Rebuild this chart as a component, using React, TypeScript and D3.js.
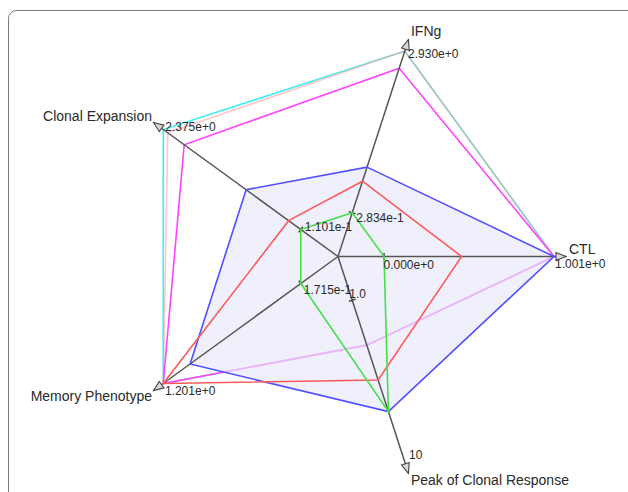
import * as d3 from 'd3';

// axis order clockwise from the top
const axes = ['IFNg', 'CTL', 'Peak of Clonal Response', 'Memory Phenotype', 'Clonal Expansion'];
const axisMin = [0.2834, 0, 1, 0.1715, 0.1101];
const axisMax = [2.93, 1.001, 10, 1.201, 2.375];
const minLabels = ['2.834e-1', '0.000e+0', '1.0', '1.715e-1', '1.101e-1'];
const maxLabels = ['2.930e+0', '1.001e+0', '10', '1.201e+0', '2.375e+0'];

// series values, same order as axes
const cyanValues = [2.93, 1.001, 3.5, 1.201, 2.375];
const pinkValues = [2.93, 1.001, 3.5, 1.201, 2.3];
const magentaValues = [2.65, 1.001, 3.5, 1.201, 2.03];
const blueValues = [1.03, 1.001, 7.2, 1.0, 1.01];
const redValues = [0.8, 0.457, 5.44, 1.201, 0.31];
const greenValues = [0.2834, 0, 7.2, 0.1715, 0.1101];

const W = 628;
const H = 492;
const cx = 338;
const cy = 256.5;
const R = 216;
const r0 = 46;
const arrowLen = 12;

// label offsets (layout only)
const nameOffset = [[2.5, -3.7, 'start'], [3, -3, 'start'], [2.5, 11.7, 'start'], [-1.5, 10.5, 'end'], [-1.5, -1.5, 'end']] as const;
const maxOffset = [[3.3, 7], [1, 11.5], [4.3, -3], [1.7, 11.5], [2, 1]];
const minOffset = [[4, 9], [-0.5, 12], [-3, -2], [3, 10.5], [4, 2]];

const angle = (i: number) => ((-72 + 72 * i) * Math.PI) / 180;
const pt = (i: number, r: number): [number, number] => [cx + r * Math.cos(angle(i)), cy + r * Math.sin(angle(i))];
const scales = axes.map((_, i) => d3.scaleLinear().domain([axisMin[i], axisMax[i]]).range([r0, R]));

const polygon = d3.line<[number, number]>().curve(d3.curveLinearClosed);
const pathFor = (vals: number[]) => polygon(vals.map((v, i) => pt(i, scales[i](v)))) || '';

const font = '"Liberation Sans", Arial, sans-serif';

export default function App() {
  const under = [
    { vals: cyanValues, color: '#3ff0f0', op: 1 },
    { vals: pinkValues, color: '#ff9a9a', op: 0.55 },
    { vals: magentaValues, color: '#ff44ff', op: 1 },
  ];
  const over = [
    { vals: blueValues, color: '#5050ff' },
    { vals: redValues, color: '#ff5a5a' },
    { vals: greenValues, color: '#44e044' },
  ];

  return (
    <svg width={W} height={H} style={{ position: 'absolute', left: 0, top: 0, background: '#fff' }}>
      <rect x={8.5} y={10.5} width={660} height={520} rx={8} fill="#fff" stroke="#7a7a7a" strokeWidth={1} />

      {under.map((s, k) => (
        <path key={k} d={pathFor(s.vals)} fill="none" stroke={s.color} strokeOpacity={s.op} strokeWidth={1.6} />
      ))}

      {/* blue series fill sits over the pale series */}
      <path d={pathFor(blueValues)} fill="rgb(232,232,250)" fillOpacity={0.66} stroke="none" />

      {axes.map((_, i) => {
        const [x0, y0] = pt(i, 0);
        const [x1, y1] = pt(i, R + arrowLen);
        const [tx, ty] = pt(i, r0);
        const a = angle(i);
        const px = -Math.sin(a);
        const py = Math.cos(a);
        const [bx, by] = pt(i, R + 2);
        const head = `M${x1},${y1}L${bx + px * 4},${by + py * 4}L${bx - px * 4},${by - py * 4}Z`;
        return (
          <g key={i}>
            <line x1={x0} y1={y0} x2={x1} y2={y1} stroke="#555" strokeWidth={1.5} />
            <line x1={tx + px * 3.5} y1={ty + py * 3.5} x2={tx - px * 3.5} y2={ty - py * 3.5} stroke="#333" strokeWidth={1.3} />
            <path d={head} fill="#d8d8d8" stroke="#444" strokeWidth={1.1} />
          </g>
        );
      })}

      {over.map((s, k) => (
        <path key={k} d={pathFor(s.vals)} fill="none" stroke={s.color} strokeWidth={1.6} />
      ))}

      {axes.map((name, i) => {
        const [x1, y1] = pt(i, R + arrowLen);
        const [mx, my] = pt(i, R);
        const [nx, ny] = pt(i, r0);
        return (
          <g key={i} fontFamily={font} fill="#2a2a2a">
            <text x={x1 + nameOffset[i][0]} y={y1 + nameOffset[i][1]} textAnchor={nameOffset[i][2]} fontSize={14}>
              {name}
            </text>
            <text x={mx + maxOffset[i][0]} y={my + maxOffset[i][1]} fontSize={12}>
              {maxLabels[i]}
            </text>
            <text x={nx + minOffset[i][0]} y={ny + minOffset[i][1]} fontSize={12}>
              {minLabels[i]}
            </text>
          </g>
        );
      })}
    </svg>
  );
}
